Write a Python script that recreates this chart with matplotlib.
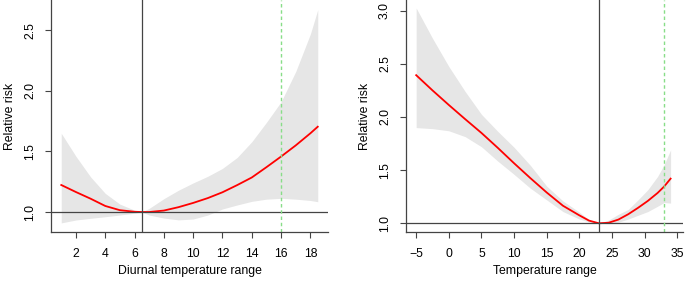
import numpy as np
import matplotlib
matplotlib.use('Agg')
import matplotlib.pyplot as plt

plt.rcParams['font.family'] = ['Liberation Sans', 'DejaVu Sans']

# ── Left panel: diurnal temperature range ──
dtr_x  = [1, 2, 3, 4, 5, 6, 6.5, 7, 8, 9, 10, 11, 12, 13, 14, 15, 16, 17, 18, 18.5]
dtr_rr = [1.223, 1.165, 1.11, 1.05, 1.015, 1.002, 1.0, 1.0, 1.012, 1.04, 1.075, 1.115,
          1.163, 1.222, 1.285, 1.37, 1.458, 1.55, 1.65, 1.704]
dtr_hi = [1.65, 1.46, 1.29, 1.154, 1.065, 1.015, 1.0, 1.03, 1.11, 1.18, 1.24, 1.295,
          1.36, 1.45, 1.58, 1.74, 1.91, 2.16, 2.47, 2.67]
dtr_lo = [0.91, 0.934, 0.948, 0.961, 0.975, 0.99, 1.0, 0.975, 0.95, 0.935, 0.942, 0.975,
          1.025, 1.058, 1.088, 1.106, 1.113, 1.106, 1.095, 1.085]
dtr_ref = 6.5
dtr_pct = 16
dtr_xticks = [2, 4, 6, 8, 10, 12, 14, 16, 18]
dtr_yticks = [1.0, 1.5, 2.0, 2.5]

# ── Right panel: temperature ──
tmp_x  = [-5, -2.5, 0, 2.5, 5, 7.5, 10, 12.5, 15, 17.5, 20, 21.5, 23, 24.5, 26, 27.5,
          29, 30.5, 32, 33, 34]
tmp_rr = [2.393, 2.25, 2.113, 1.98, 1.85, 1.71, 1.565, 1.425, 1.29, 1.165, 1.075, 1.025,
          1.0, 1.005, 1.035, 1.085, 1.145, 1.21, 1.285, 1.345, 1.42]
tmp_hi = [3.025, 2.74, 2.475, 2.24, 2.025, 1.865, 1.715, 1.545, 1.35, 1.21, 1.105, 1.035,
          1.0, 1.03, 1.085, 1.13, 1.22, 1.315, 1.44, 1.55, 1.69]
tmp_lo = [1.90, 1.89, 1.87, 1.815, 1.72, 1.585, 1.46, 1.33, 1.22, 1.11, 1.04, 1.012,
          1.0, 0.997, 1.01, 1.04, 1.075, 1.11, 1.16, 1.195, 1.19]
tmp_ref = 23
tmp_pct = 33
tmp_xticks = [-5, 0, 5, 10, 15, 20, 25, 30, 35]
tmp_yticks = [1.0, 1.5, 2.0, 2.5, 3.0]

SHADE = '#E6E6E6'
AXCOL = '#444444'
FS = 8.8

fig = plt.figure(figsize=(6.85, 2.84), dpi=100, facecolor='white')


def panel(rect, x, rr, lo, hi, ref, pct, xticks, yticks, xlabel, xlim, ylim):
    ax = fig.add_axes(rect)
    ax.fill_between(x, lo, hi, color=SHADE, lw=0)
    ax.plot(x, rr, color='#FF0000', lw=1.3)
    ax.axhline(1.0, color=AXCOL, lw=0.9)
    ax.axvline(ref, color=AXCOL, lw=0.9)
    ax.axvline(pct, color='#88DD88', lw=1.0, ls=(0, (2.5, 2)))
    ax.set_xlim(*xlim)
    ax.set_ylim(*ylim)
    ax.set_xticks(xticks)
    ax.set_yticks(yticks)
    ax.set_yticklabels([f'{v:.1f}' for v in yticks], rotation=90, va='center')
    for s in ('top', 'right'):
        ax.spines[s].set_visible(False)
    for s in ('left', 'bottom'):
        ax.spines[s].set_color(AXCOL)
        ax.spines[s].set_linewidth(0.9)
    ax.tick_params(colors=AXCOL, labelcolor='black', labelsize=FS,
                   length=4.5, width=0.8)
    ax.tick_params(axis='x', pad=7.3)
    ax.tick_params(axis='y', pad=6.3)
    ax.set_xlabel(xlabel, fontsize=FS, labelpad=3.3)
    ax.set_ylabel('Relative risk', fontsize=FS, labelpad=5.8)
    return ax


panel([51/685, 52/284, 277/685, 232/284], dtr_x, dtr_rr, dtr_lo, dtr_hi,
      dtr_ref, dtr_pct, dtr_xticks, dtr_yticks, 'Diurnal temperature range',
      (0.3, 19.2), (0.835, 2.75))
panel([406/685, 52/284, 277/685, 232/284], tmp_x, tmp_rr, tmp_lo, tmp_hi,
      tmp_ref, tmp_pct, tmp_xticks, tmp_yticks, 'Temperature range',
      (-6.56, 35.9), (0.918, 3.10))

plt.savefig('out.png', dpi=100, facecolor='white')
